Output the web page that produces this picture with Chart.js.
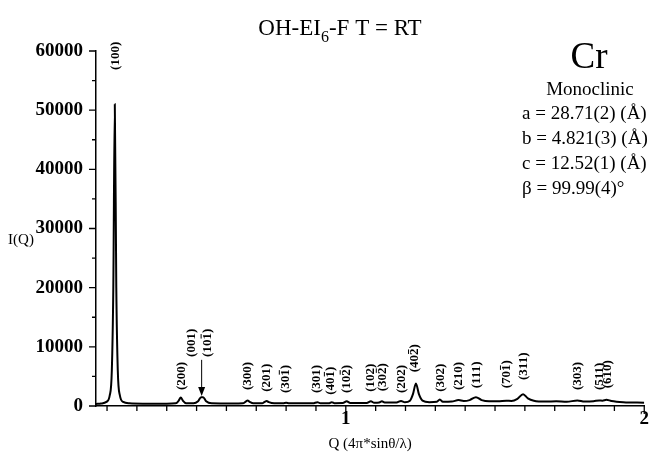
<!DOCTYPE html>
<html>
<head>
<meta charset="utf-8">
<script src="https://cdn.jsdelivr.net/npm/chart.js@4"></script>
<style>
  html, body { margin: 0; padding: 0; background: #fff; }
  canvas { display: block; }
</style>
</head>
<body>
<canvas id="xrd" width="651" height="461"></canvas>
<script>
// Powder pattern OH-EI6-F at room temperature

const qValues = [
  0.163, 0.180, 0.198, 0.209, 0.216, 0.221, 0.226, 0.231, 0.236, 0.243, 0.254, 0.275, 0.320,
  0.400, 0.430, 0.440, 0.447, 0.454, 0.465, 0.490, 0.505, 0.515, 0.522, 0.532, 0.550,
  0.620, 0.655, 0.665, 0.671, 0.678, 0.690, 0.720, 0.728, 0.735, 0.742, 0.760,
  0.790, 0.800, 0.810, 0.890, 0.905, 0.915, 0.945, 0.953, 0.962, 0.990, 1.003, 1.015,
  1.070, 1.084, 1.095, 1.112, 1.121, 1.130, 1.170, 1.185, 1.198,
  1.215, 1.225, 1.235, 1.245, 1.257, 1.280, 1.305, 1.315, 1.325,
  1.355, 1.378, 1.395, 1.415, 1.436, 1.455, 1.480, 1.510, 1.538, 1.555,
  1.575, 1.594, 1.610, 1.630, 1.670, 1.705, 1.740, 1.776, 1.800, 1.830, 1.849, 1.860, 1.873, 1.890,
  1.930, 2.000
];
const intensity = [
  350, 420, 700, 1800, 6000, 20000, 51000, 20000, 6000, 1800, 700, 450, 400,
  400, 450, 900, 1450, 900, 450, 450, 800, 1500, 1500, 800, 450,
  420, 450, 750, 950, 700, 450, 450, 700, 850, 650, 450,
  450, 550, 450, 450, 650, 450, 480, 650, 480, 500, 800, 520,
  520, 800, 560, 600, 800, 600, 600, 850, 650,
  900, 2000, 3800, 2000, 900, 650, 700, 1100, 700,
  750, 1000, 850, 1000, 1500, 1000, 800, 800, 900, 850,
  1200, 2000, 1300, 900, 750, 800, 700, 950, 750, 800, 950, 900, 1050, 850,
  650, 550
];

// Miller index labels (\u0305 = overbar on the previous digit)
const peakLabels = [
  "(100)", "(200)", "(001)", "(101\u0305)", "(300)", "(201)", "(301\u0305)",
  "(301)", "(401\u0305)", "(102\u0305)", "(102)", "(302\u0305)", "(202)", "(402\u0305)",
  "(302)", "(210)", "(111)", "(701\u0305)", "(311)", "(303)", "(511)", "(610)"
];
const peakLabelQ = [
  0.230, 0.450, 0.483, 0.537, 0.671, 0.735, 0.799,
  0.903, 0.950, 1.003, 1.084, 1.124, 1.188, 1.232,
  1.319, 1.379, 1.440, 1.540, 1.597, 1.778, 1.849, 1.876
];
const peakLabelBase = [
  56800, 2700, 8300, 8300, 2700, 2400, 2200,
  2200, 1900, 2200, 2400, 2500, 2200, 5700,
  2400, 2700, 3000, 3000, 4400, 2700, 2700, 3000
];

// arrow from the (001)/(10-1) pair down to its peak
const arrowQ = 0.517;
const arrowFrom = 7800;
const arrowTo = 1700;

const xMajorTicks = [1, 2];
const xMinorTicks = [0.2, 0.3, 0.4, 0.5, 0.6, 0.7, 0.8, 0.9, 1.1, 1.2, 1.3, 1.4, 1.5, 1.6, 1.7, 1.8, 1.9];
const yMajorTicks = [0, 10000, 20000, 30000, 40000, 50000, 60000];
const yMinorTicks = [5000, 15000, 25000, 35000, 45000, 55000];

const cellLines = [
  "a = 28.71(2) (\u00C5)",
  "b = 4.821(3) (\u00C5)",
  "c = 12.52(1) (\u00C5)",
  "\u03B2 = 99.99(4)\u00B0"
];

const SERIF = "'Liberation Serif', 'Times New Roman', serif";

// ---------------- custom drawing ----------------
function drawLabel(ctx, text, x, y) {
  // text goes upward from (x, y); overbars handled by hand
  const plain = text.replace(/\u0305/g, "");
  ctx.save();
  ctx.translate(x, y);
  ctx.rotate(-Math.PI / 2);
  ctx.textAlign = "left";
  ctx.textBaseline = "middle";
  ctx.fillText(plain, 0, 0);
  let pos = 0;
  for (let i = 0; i < text.length; i++) {
    if (text[i] === "\u0305") continue;
    if (text[i + 1] === "\u0305") {
      const x0 = ctx.measureText(plain.slice(0, pos)).width;
      const w = ctx.measureText(plain[pos]).width;
      ctx.beginPath();
      ctx.moveTo(x0 + 1, -6.5);
      ctx.lineTo(x0 + w - 1, -6.5);
      ctx.lineWidth = 1;
      ctx.strokeStyle = "#000";
      ctx.stroke();
    }
    pos++;
  }
  ctx.restore();
}

const decorations = {
  id: "decorations",
  afterDraw(chart) {
    const ctx = chart.ctx;
    const xs = chart.scales.x, ys = chart.scales.y;
    const area = chart.chartArea;
    ctx.save();
    ctx.fillStyle = "#000";
    ctx.strokeStyle = "#000";

    // axis ticks (outside)
    ctx.lineWidth = 1.3;
    ctx.beginPath();
    for (const v of xMinorTicks) {
      const px = xs.getPixelForValue(v);
      ctx.moveTo(px, area.bottom); ctx.lineTo(px, area.bottom + 5);
    }
    for (const v of xMajorTicks) {
      const px = xs.getPixelForValue(v);
      ctx.moveTo(px, area.bottom); ctx.lineTo(px, area.bottom + 8);
    }
    for (const v of yMinorTicks) {
      const py = ys.getPixelForValue(v);
      ctx.moveTo(area.left, py); ctx.lineTo(area.left - 4, py);
    }
    for (const v of yMajorTicks) {
      const py = ys.getPixelForValue(v);
      ctx.moveTo(area.left, py); ctx.lineTo(area.left - 7, py);
    }
    ctx.stroke();

    // title with subscript
    ctx.textBaseline = "alphabetic";
    ctx.textAlign = "left";
    const tBig = "23px " + SERIF, tSub = "16px " + SERIF;
    ctx.font = tBig;
    const p1 = "OH-EI", p3 = "-F T = RT";
    const w1 = ctx.measureText(p1).width, w3 = ctx.measureText(p3).width;
    ctx.font = tSub;
    const w2 = ctx.measureText("6").width;
    let tx = 340 - (w1 + w2 + w3) / 2;
    const ty = 35;
    ctx.font = tBig; ctx.fillText(p1, tx, ty); tx += w1;
    ctx.font = tSub; ctx.fillText("6", tx, ty + 7); tx += w2;
    ctx.font = tBig; ctx.fillText(p3, tx, ty);

    // phase / cell parameters block
    ctx.textAlign = "center";
    ctx.font = "37px " + SERIF;
    ctx.fillText("Cr", 589, 68);
    ctx.font = "19px " + SERIF;
    ctx.fillText("Monoclinic", 590, 95);
    ctx.textAlign = "left";
    cellLines.forEach((s, i) => ctx.fillText(s, 522, 119 + i * 25));

    // y axis title (horizontal)
    ctx.textAlign = "center";
    ctx.textBaseline = "middle";
    ctx.font = "15px " + SERIF;
    ctx.fillText("I(Q)", 21, 240);

    // peak labels
    ctx.font = "bold 13px " + SERIF;
    peakLabels.forEach((lab, i) => {
      drawLabel(ctx, lab, xs.getPixelForValue(peakLabelQ[i]), ys.getPixelForValue(peakLabelBase[i]));
    });

    // arrow
    const ax = xs.getPixelForValue(arrowQ);
    const ay0 = ys.getPixelForValue(arrowFrom), ay1 = ys.getPixelForValue(arrowTo);
    ctx.lineWidth = 1;
    ctx.beginPath();
    ctx.moveTo(ax, ay0); ctx.lineTo(ax, ay1 - 6);
    ctx.stroke();
    ctx.beginPath();
    ctx.moveTo(ax, ay1); ctx.lineTo(ax - 3.5, ay1 - 9); ctx.lineTo(ax + 3.5, ay1 - 9);
    ctx.closePath();
    ctx.fill();

    ctx.restore();
  }
};

const tickFont = { family: SERIF, size: 19, weight: "bold" };

new Chart(document.getElementById("xrd").getContext("2d"), {
  type: "line",
  data: {
    datasets: [{
      data: qValues.map((q, i) => ({ x: q, y: intensity[i] })),
      borderColor: "#000",
      borderWidth: 2,
      pointRadius: 0,
      fill: false,
      cubicInterpolationMode: "monotone",
    }]
  },
  options: {
    responsive: false,
    animation: false,
    layout: { padding: { top: 51, right: 6, left: 0, bottom: 0 } },
    plugins: { legend: { display: false }, tooltip: { enabled: false } },
    scales: {
      x: {
        type: "linear",
        min: 0.163,
        max: 2,
        grid: { display: false, drawTicks: false },
        border: { color: "#000", width: 1.5 },
        afterBuildTicks: (s) => { s.ticks = xMajorTicks.map(v => ({ value: v })); },
        afterFit: (s) => { s.height = 55; },
        ticks: { color: "#000", font: tickFont, padding: 2, maxRotation: 0, autoSkip: false, callback: (v) => String(v) },
        title: { display: true, text: "Q (4\u03C0*sin\u03B8/\u03BB)", color: "#000", font: { family: SERIF, size: 15 }, padding: { top: 0, bottom: 8 } },
      },
      y: {
        type: "linear",
        min: 0,
        max: 60000,
        grid: { display: false, drawTicks: false },
        border: { color: "#000", width: 1.5 },
        afterBuildTicks: (s) => { s.ticks = yMajorTicks.map(v => ({ value: v })); },
        afterFit: (s) => { s.width = 96; },
        ticks: { color: "#000", font: tickFont, padding: 13, autoSkip: false, callback: (v) => String(v) },
      }
    }
  },
  plugins: [decorations]
});
</script>
</body>
</html>
